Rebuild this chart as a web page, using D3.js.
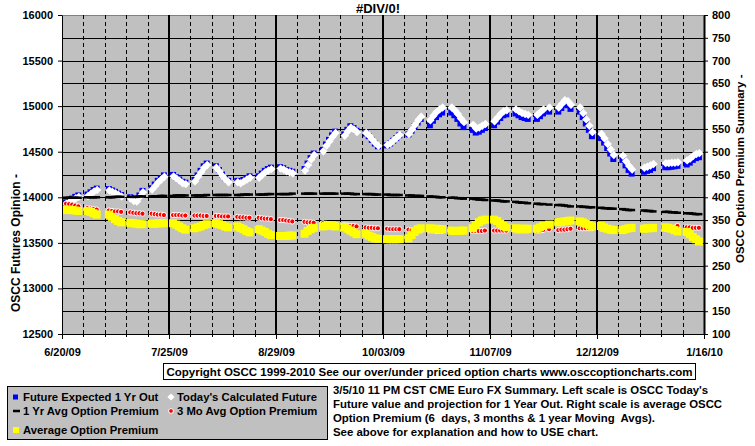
<!DOCTYPE html>
<html><head><meta charset="utf-8">
<script src="https://cdn.jsdelivr.net/npm/d3@7"></script>
<style>
body{margin:0;background:#fff;}
svg text{font-family:Arial,"Liberation Sans",sans-serif;font-weight:bold;fill:#000;}
</style>
</head><body>
<svg id="c" width="755" height="446"></svg>
<script>
// ---------------- DATA ----------------
const chartTitle = "#DIV/0!";
const firstTradeDay = "2009-06-22";
const lastTradeDay = "2010-01-15";
const holidays = ["2009-07-03","2009-09-07","2009-11-26","2009-12-25","2010-01-01"];
const xTickLabels = ["6/20/09","7/25/09","8/29/09","10/03/09","11/07/09","12/12/09","1/16/10"];
const leftTicks = [12500,13000,13500,14000,14500,15000,15500,16000];
const rightTicks = [100,150,200,250,300,350,400,450,500,550,600,650,700,750,800];

// Today's Calculated Future (left scale, white diamonds)
const todaysCalc = [
 13935,13955,13975,13995,14010,
 14020,14045,14070,14085,
 14080,14065,14050,14030,14015,
 13990,13965,13960,14010,14060,
 14090,14130,14170,14200,14230,
 14235,14210,14185,14160,14150,
 14180,14230,14280,14330,14360,
 14330,14290,14240,14200,14170,
 14170,14160,14180,14200,14220,
 14220,14250,14280,14300,14315,
 14320,14310,14290,14280,14270,
 14300,14360,14420,14470,
 14510,14570,14620,14670,14710,
 14680,14730,14770,14750,14720,
 14710,14680,14640,14600,14570,
 14580,14600,14630,14660,14690,
 14700,14750,14800,14850,14890,
 14850,14900,14940,14970,14990,
 14990,14960,14920,14870,14830,
 14800,14760,14770,14790,14810,
 14840,14880,14920,14950,14960,
 14970,14950,14930,14920,14910,
 14910,14940,14970,14990,
 14990,15030,15070,15060,15020,
 14990,14930,14860,14790,14720,
 14700,14650,14590,14530,14470,
 14460,14400,14350,14310,
 14330,14340,14355,14370,
 14380,14380,14385,14385,14390,
 14410,14430,14460,14480,14490
];
// Future Expected 1 Yr Out (left scale, blue squares)
const futureExpected = [
 13945,13965,13985,14005,14020,
 14030,14055,14080,14095,
 14090,14075,14060,14040,14025,
 14000,13975,13970,14020,14070,
 14100,14140,14180,14210,14240,
 14245,14220,14195,14170,14160,
 14190,14240,14290,14340,14370,
 14340,14300,14250,14210,14180,
 14180,14170,14190,14210,14230,
 14230,14260,14290,14310,14325,
 14330,14320,14300,14290,14280,
 14310,14370,14430,14480,
 14520,14580,14630,14680,14720,
 14690,14740,14780,14760,14730,
 14700,14670,14630,14590,14560,
 14570,14590,14620,14650,14680,
 14690,14730,14780,14820,14860,
 14790,14840,14880,14910,14930,
 14930,14900,14860,14810,14770,
 14740,14710,14720,14740,14760,
 14790,14830,14870,14900,14910,
 14920,14900,14880,14870,14860,
 14860,14890,14920,14940,
 14940,14980,15020,15010,14970,
 14940,14880,14810,14740,14670,
 14650,14600,14540,14480,14420,
 14410,14350,14300,14260,
 14280,14290,14300,14320,
 14330,14330,14335,14340,14345,
 14360,14380,14410,14430,14440
];
// 1 Yr Avg Option Premium (right scale, black dashes)
const oneYrAvg = [
 399,399,399,399,399,
 400,400,400,400,
 400,400,401,401,401,
 401,401,401,402,402,
 402,402,402,403,403,
 403,404,404,404,404,
 404,404,404,404,405,
 405,405,405,405,405,
 405,405,406,406,406,
 406,406,406,407,407,
 407,407,407,407,408,
 408,408,408,408,
 408,408,408,408,408,
 408,408,408,407,407,
 407,407,407,406,406,
 406,405,405,405,405,
 404,404,403,403,403,
 402,401,401,400,400,
 399,399,398,398,397,
 397,396,395,395,394,
 393,393,392,391,391,
 390,389,388,388,387,
 386,385,385,384,
 383,383,382,381,380,
 380,379,379,378,378,
 377,376,376,375,375,
 374,373,372,372,
 371,370,370,369,
 368,368,367,367,366,
 365,365,364,363,363
];
// 3 Mo Avg Option Premium (right scale, red dots)
const threeMoAvg = [
 386,385,384,382,380,
 376,375,374,373,
 371,370,369,369,368,
 367,366,365,365,364,
 364,363,362,362,361,
 361,361,361,360,360,
 360,360,360,359,359,
 359,359,358,358,358,
 357,356,356,355,355,
 355,354,353,353,352,
 350,350,349,348,347,
 346,345,345,344,
 343,342,341,340,340,
 339,338,337,337,336,
 334,333,333,332,332,
 331,330,330,330,330,
 329,328,327,327,327,
 327,327,326,326,326,
 326,326,326,326,326,
 326,326,326,326,327,
 327,327,327,327,327,
 327,327,327,327,327,
 327,327,328,330,
 328,329,329,330,331,
 332,332,332,332,332,
 331,331,331,331,331,
 330,330,330,331,
 330,330,331,331,
 331,332,332,333,337,
 334,334,333,333,333
];
// Average Option Premium (right scale, yellow squares)
const avgPremium = [
 372,373,372,371,370,
 370,368,365,362,
 362,357,352,348,345,
 344,343,342,341,341,
 342,342,343,343,343,
 343,340,336,332,329,
 332,334,336,339,341,
 343,341,339,336,334,
 336,333,330,326,323,
 330,327,324,320,317,
 315,315,315,316,316,
 320,326,330,333,
 336,337,338,338,336,
 335,331,327,323,319,
 320,316,313,310,309,
 308,308,308,308,308,
 310,317,324,330,332,
 332,331,331,330,330,
 327,326,326,327,327,
 332,339,345,349,351,
 351,348,342,337,334,
 332,331,331,331,331,
 331,334,337,340,
 345,346,347,348,349,
 347,345,342,339,336,
 337,334,331,329,328,
 328,330,332,333,
 331,332,332,333,
 334,333,331,328,325,
 324,319,313,308,303
];

const legendLabels = ["Future Expected 1 Yr Out","Today's Calculated Future","1 Yr Avg Option Premium","3 Mo Avg Option Premium","Average Option Premium"];
const leftAxisTitle = "OSCC Futures Opinion -";
const rightAxisTitle = "OSCC Option Premium Summary -";
const copyrightText = "Copyright OSCC 1999-2010 See our over/under priced option charts www.osccoptioncharts.com";
const noteLines = [
 "3/5/10 11 PM CST CME Euro FX Summary. Left scale is OSCC Today's",
 "Future value and projection for 1 Year Out. Right scale is average OSCC",
 "Option Premium (6  days, 3 months & 1 year Moving  Avgs).",
 "See above for explanation and how to USE chart."
];

// ---------------- DRAW ----------------
const svg = d3.select("#c");
const P = {l:62, r:704, t:15, b:334};
const parseD = d3.timeParse("%Y-%m-%d");
const fmtD = d3.timeFormat("%Y-%m-%d");
const parseTick = d3.timeParse("%m/%d/%y");

const dates = [];
for (let d = parseD(firstTradeDay); d <= parseD(lastTradeDay); d = d3.timeDay.offset(d, 1)) {
  const w = d.getDay();
  if (w === 0 || w === 6) continue;
  if (holidays.includes(fmtD(d))) continue;
  dates.push(d);
}
const tickDates = xTickLabels.map(parseTick);

const x = d3.scaleTime().domain([tickDates[0], tickDates[tickDates.length-1]]).range([P.l, P.r]);
const yL = d3.scaleLinear().domain([12500, 16000]).range([P.b, P.t]);
const yR = d3.scaleLinear().domain([100, 800]).range([P.b, P.t]);
const px = d => x(d3.timeHour.offset(d, -16));

// plot background
svg.append("rect").attr("x", P.l).attr("y", P.t).attr("width", P.r-P.l).attr("height", P.b-P.t)
  .attr("fill", "#c0c0c0").attr("stroke", "#808080").attr("stroke-width", 1).attr("shape-rendering","crispEdges");

// horizontal grid (every 250 on left scale)
const gridVals = d3.range(12750, 16000, 250);
svg.append("g").selectAll("line").data(gridVals).join("line")
  .attr("x1", P.l).attr("x2", P.r)
  .attr("y1", d => Math.round(yL(d))+0.5).attr("y2", d => Math.round(yL(d))+0.5)
  .attr("stroke", "#000").attr("stroke-width", 1);

// vertical weekly grid
const saturdays = d3.timeSaturday.range(d3.timeDay.offset(tickDates[0], 1), tickDates[tickDates.length-1]);
const isMajor = d => tickDates.some(t => fmtD(t) === fmtD(d));
svg.append("g").selectAll("line").data(saturdays).join("line")
  .attr("x1", d => Math.round(x(d))+ (isMajor(d)?0:0.5)).attr("x2", d => Math.round(x(d))+(isMajor(d)?0:0.5))
  .attr("y1", P.t).attr("y2", P.b)
  .attr("stroke", "#000")
  .attr("stroke-width", d => isMajor(d) ? 2 : 1)
  .attr("stroke-dasharray", d => isMajor(d) ? null : "4,3");

// series markers
const g = svg.append("g");
g.selectAll(".fe").data(dates).join("rect").attr("class","fe")
  .attr("x", (d,i) => px(d)-3).attr("y", (d,i) => yL(futureExpected[i])-3)
  .attr("width", 6).attr("height", 6).attr("fill", "#0000ff");
g.selectAll(".tc").data(dates).join("path").attr("class","tc")
  .attr("transform", (d,i) => `translate(${px(d)+0.5},${yL(todaysCalc[i])+0.5})`)
  .attr("d", "M0,-4.2L4.2,0L0,4.2L-4.2,0Z").attr("fill", "#fff");
g.selectAll(".oy").data(dates).join("rect").attr("class","oy")
  .attr("x", (d,i) => px(d)-3.5).attr("y", (d,i) => yR(oneYrAvg[i])-1.25)
  .attr("width", 7).attr("height", 2.5).attr("fill", "#000");
g.selectAll(".tm").data(dates).join("circle").attr("class","tm")
  .attr("cx", d => px(d)).attr("cy", (d,i) => yR(threeMoAvg[i]))
  .attr("r", 2.6).attr("fill", "#ff0000").attr("stroke", "#fff").attr("stroke-width", 1);
g.selectAll(".ap").data(dates).join("rect").attr("class","ap")
  .attr("x", d => px(d)-4).attr("y", (d,i) => yR(avgPremium[i])-4)
  .attr("width", 8).attr("height", 8).attr("fill", "#ffff00");

// axes
const styleAxis = (sel, w) => {
  sel.select(".domain").attr("stroke", "#000").attr("stroke-width", w);
  sel.selectAll(".tick line").attr("stroke", "#000").attr("stroke-width", 1);
  sel.selectAll("text").attr("font-size", 11).attr("font-weight","bold")
     .attr("font-family","Arial, 'Liberation Sans', sans-serif").attr("fill","#000");
};
const axL = svg.append("g").attr("transform", `translate(${P.l},0)`)
  .call(d3.axisLeft(yL).tickValues(leftTicks).tickSize(4).tickSizeOuter(0).tickPadding(5).tickFormat(d3.format("d")));
styleAxis(axL, 1);
const axR = svg.append("g").attr("transform", `translate(${P.r},0)`)
  .call(d3.axisRight(yR).tickValues(rightTicks).tickSize(4).tickSizeOuter(0).tickPadding(4).tickFormat(d3.format("d")));
styleAxis(axR, 2);
const axB = svg.append("g").attr("transform", `translate(0,${P.b})`)
  .call(d3.axisBottom(x).tickValues(tickDates).tickSize(5).tickSizeOuter(0).tickPadding(9).tickFormat((d,i) => xTickLabels[i]));
styleAxis(axB, 1);
// minor x ticks (weekly)
svg.append("g").selectAll("line").data(saturdays.filter(d => !isMajor(d))).join("line")
  .attr("x1", d => Math.round(x(d))+0.5).attr("x2", d => Math.round(x(d))+0.5)
  .attr("y1", P.b-2).attr("y2", P.b+3).attr("stroke", "#000");

// title
svg.append("text").attr("x", 378).attr("y", 13).attr("text-anchor","middle").attr("font-size", 13).text(chartTitle);
// axis titles
svg.append("text").attr("transform", "translate(20,312) rotate(-90)").attr("font-size", 12).text(leftAxisTitle);
svg.append("text").attr("transform", "translate(744,263) rotate(-90)").attr("font-size", 11.5).text(rightAxisTitle);

// copyright box
svg.append("rect").attr("x", 163.5).attr("y", 363.5).attr("width", 532).attr("height", 16)
  .attr("fill", "#fff").attr("stroke", "#000");
svg.append("text").attr("x", 429.5).attr("y", 376).attr("text-anchor","middle").attr("font-size", 11.5).text(copyrightText);

// legend
svg.append("rect").attr("x", 7.5).attr("y", 386.5).attr("width", 320).attr("height", 53)
  .attr("fill", "#c0c0c0").attr("stroke", "#000");
const lg = svg.append("g");
const rowY = [397, 411, 430];
lg.append("rect").attr("x", 13).attr("y", rowY[0]-2.5).attr("width", 5).attr("height", 5).attr("fill", "#0000ff");
lg.append("path").attr("transform", `translate(171,${rowY[0]})`).attr("d","M0,-3.6L3.6,0L0,3.6L-3.6,0Z").attr("fill","#fff");
lg.append("rect").attr("x", 13).attr("y", rowY[1]-1.25).attr("width", 7).attr("height", 2.5).attr("fill", "#000");
lg.append("circle").attr("cx", 171).attr("cy", rowY[1]).attr("r", 2.4).attr("fill","#ff0000").attr("stroke","#fff");
lg.append("rect").attr("x", 13).attr("y", rowY[2]-3).attr("width", 6).attr("height", 6).attr("fill", "#ffff00");
const legPos = [[23,rowY[0]],[177,rowY[0]],[23,rowY[1]],[177,rowY[1]],[23,rowY[2]]];
legendLabels.forEach((t,i) => {
  lg.append("text").attr("x", legPos[i][0]).attr("y", legPos[i][1]+4).attr("font-size", 11.3).text(t);
});

// note text
noteLines.forEach((t,i) => {
  svg.append("text").attr("x", 333).attr("y", 394 + i*14).attr("font-size", 11.4)
    .style("white-space","pre").text(t);
});
</script>
</body></html>
